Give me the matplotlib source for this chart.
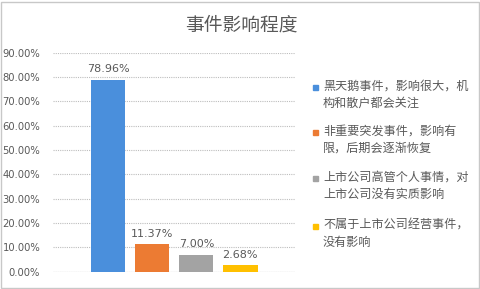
import matplotlib.pyplot as plt
from matplotlib.patches import Rectangle

plt.rcParams['font.family'] = ['Noto Sans CJK SC', 'DejaVu Sans']

labels = ['黑天鹅事件，影响很大，机\n构和散户都会关注',
          '非重要突发事件，影响有\n限，后期会逐渐恢复',
          '上市公司高管个人事情，对\n上市公司没有实质影响',
          '不属于上市公司经营事件，\n没有影响']
values = [78.96, 11.37, 7.00, 2.68]
colors = ['#4a8fdc', '#ec7b33', '#a3a3a3', '#ffc000']
yticks = [0, 10, 20, 30, 40, 50, 60, 70, 80, 90]

txt = '#595959'
W, H = 481, 289
fig = plt.figure(figsize=(W / 100, H / 100), dpi=100)

# plot area in pixel coords: x 52.7..295, y 52.7..271.7
ax = fig.add_axes([52.7 / W, 1 - 271.7 / H, (295 - 52.7) / W, (271.7 - 52.7) / H])
x = range(len(values))
bars = ax.bar(x, values, width=0.78, color=colors, zorder=3)
ax.set_xlim(-1.26, 4.24)
ax.set_ylim(0, 90)
ax.set_yticks(yticks)
ax.set_yticklabels([f'{v:.2f}%' for v in yticks], fontsize=7.2, color=txt,
                   family=['DejaVu Sans'])
ax.set_xticks([])
ax.tick_params(axis='y', length=0, pad=9)
ax.grid(axis='y', color='#bdbdbd', linewidth=0.8, linestyle=(0, (1, 1)), zorder=0)
for s in ax.spines.values():
    s.set_visible(False)
ax.axhline(0, color='#bdbdbd', linewidth=0.8, zorder=2)

for xi, v in zip(x, values):
    ax.text(xi, v + 2.2, f'{v:.2f}%', ha='center', va='bottom', fontsize=8,
            color=txt, family=['DejaVu Sans'])

fig.text(241 / W, 1 - 25 / H, '事件影响程度', ha='center', va='center',
         fontsize=13.5, color=txt)

# legend, drawn by hand so the marker sits by the first line
tops = [87, 132, 178, 226]
for lab, c, ty in zip(labels, colors, tops):
    fig.patches.append(Rectangle((313 / W, 1 - (ty + 3) / H), 5 / W, 5 / H,
                                 transform=fig.transFigure, color=c))
    fig.text(323 / W, 1 - (ty - 7) / H, lab, ha='left', va='top', fontsize=8.7,
             color=txt, linespacing=1.35)

fig.patches.append(Rectangle((1 / W, 1 / H), (W - 3) / W, (H - 3) / H,
                             transform=fig.transFigure, fill=False,
                             edgecolor='#c8c8c8', linewidth=1))

fig.savefig('out.png', dpi=100)
